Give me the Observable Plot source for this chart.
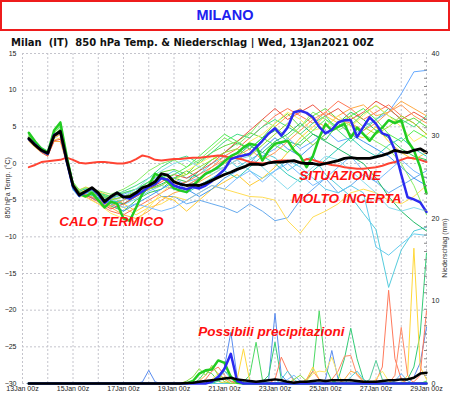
<!DOCTYPE html>
<html><head><meta charset="utf-8">
<script src="https://cdn.jsdelivr.net/npm/d3@7"></script>
<script src="https://cdn.jsdelivr.net/npm/@observablehq/plot@0.6"></script>
<style>
body{margin:0;background:#fff;width:450px;height:396px;overflow:hidden;position:relative}
#title{position:absolute;left:0;top:0;width:450px;height:31px;box-sizing:border-box;border:2px solid #ee1c1c;color:#2020f0;font:bold 14.5px "Liberation Sans",Arial,sans-serif;text-align:center;line-height:27px}
#sub{position:absolute;left:11px;top:36.5px;font:bold 10px "DejaVu Sans",sans-serif;line-height:12px;white-space:pre;color:#111}
#chart{position:absolute;left:0;top:48px}
</style></head><body>
<div id="title">MILANO</div>
<div id="sub">Milan  (IT)  850 hPa Temp. &amp; Niederschlag | Wed, 13Jan2021 00Z</div>
<div id="chart"></div>
<script>
// ---- time axes (hours after 13Jan2021 00Z) ----
const hours6 = [6,12,18,24,30,36,42,48,54,60,66,72,78,84,90,96,102,108,114,120,126,132,138,144,150,156,162,168,174,180,186,192,198,204,210,216,222,228,234,240,246,252,258,264,270,276,282,288,294,300,306,312,318,324,330,336,342,348,354,360,366,372,378,384];
const memberHours = [6,12,18,24,30,36,42,48,54,60,72,84,96,108,120,132,144,156,168,180,192,204,216,228,240,252,264,276,288,300,312,324,336,348,360,372,384];
const precipMemberHours = [96,102,108,114,120,126,132,138,144,150,156,162,168,174,180,186,192,198,204,210,216,222,228,234,240,246,252,258,264,270,276,282,288,294,300,306,312,318,324,330,336,342,348,354,360,366,372,378,384];
const dayTicks = [0,24,48,72,96,120,144,168,192,216,240,264,288,312,336,360,384];
const labelHours = [0,48,96,144,192,240,288,336,384];
const xLabels = ["13Jan 00z","15Jan 00z","17Jan 00z","19Jan 00z","21Jan 00z","23Jan 00z","25Jan 00z","27Jan 00z","29Jan 00z"];
const tempTicks = [-30,-25,-20,-15,-10,-5,0,5,10,15];
const precipTicks = [0,10,20,30,40];
const precipMinorTicks = [1,2,3,4,5,6,7,8,9,11,12,13,14,15,16,17,18,19,21,22,23,24,25,26,27,28,29,31,32,33,34,35,36,37,38,39];

// ---- bold series, 6-hourly (°C) ----
const tempMean = [3.4,2.5,1.8,1.4,3.8,4.4,0.5,-3.0, -4.3,-3.8,-3.3,-4.0,-5.2,-4.5,-4.0,-4.6, -4.5,-4.0,-3.3,-3.0,-2.5,-1.4,-1.6,-2.5, -2.8,-3.0,-2.9,-3.0,-2.7,-2.3,-1.9,-1.5, -1.2,-0.8,-0.5,-0.1,-0.1,-0.2,0.1,0.2, 0.2,0.3,0.4,0.1,0.0,0.0,-0.2,0.0, 0.2,0.4,0.7,0.8,0.7,0.7,0.7,0.9, 1.1,1.4,1.8,1.6,1.5,1.8,2.0,1.5];
const tempClim = [-0.5,-0.2,0.2,0.3,0.4,0.5,0.8,0.5, 0.1,0.0,0.1,0.2,0.2,0.1,0.0,0.0, 0.2,0.6,1.1,0.9,0.5,0.4,0.5,0.6, 0.6,0.7,0.8,0.8,0.9,1.0,1.1,1.0, 0.8,0.7,0.5,0.2,0.1,0.0,0.1,0.3, 0.4,0.4,0.3,0.2,0.6,0.5,0.2,0.0, -0.2,-0.3,-0.5,-0.6,-0.7,-0.7,-0.6,-0.5, -0.3,0.0,0.2,0.5,0.8,0.7,0.5,0.2];
const tempOper = [3.3,2.6,1.8,1.3,3.9,4.3,0.3,-3.2, -4.4,-3.9,-3.4,-4.2,-5.4,-4.6,-4.0,-4.5, -4.8,-4.3,-3.8,-3.2,-2.8,-2.0,-2.2,-3.0, -3.3,-3.5,-3.2,-3.4,-3.0,-2.4,-1.6,-0.8, 0.6,0.9,1.1,1.3,2.2,3.1,4.1,4.8, 3.8,4.9,7.0,7.2,6.9,6.3,5.0,4.1, 4.6,5.6,5.9,5.9,3.6,5.0,6.3,5.4, 4.1,3.8,1.8,-1.5,-4.6,-4.9,-5.3,-6.6];
const tempControl = [4.2,3.0,2.0,1.5,4.5,5.6,1.0,-3.0, -4.1,-4.5,-4.0,-5.0,-6.0,-5.2,-5.5,-7.5, -7.8,-6.0,-4.1,-3.0,-1.4,-1.8,-2.5,-3.4, -3.7,-3.9,-3.0,-2.2,-1.4,-1.0,-0.5,0.3, 1.0,1.4,2.2,2.7,2.5,0.4,1.8,2.7, 2.9,3.1,1.8,1.0,-0.5,1.0,3.5,5.4, 4.5,5.0,5.4,3.5,4.9,4.0,3.1,4.2, 4.9,5.9,5.5,5.9,3.1,1.8,-0.5,-4.1];

// ---- bold precipitation series, 6-hourly (mm) ----
const precipMean = [0,0,0,0,0,0,0,0, 0,0,0,0,0,0,0,0, 0,0,0,0,0,0,0,0, 0,0.05,0.1,0.2,0.3,0.4,0.5,0.6, 0.7,0.5,0.4,0.3,0.2,0.3,0.4,0.5, 0.4,0.2,0.1,0.2,0.2,0.3,0.4,0.3, 0.4,0.4,0.4,0.4,0.3,0.2,0.2,0.2, 0.3,0.4,0.4,0.5,0.5,0.7,1.2,1.3];
const precipOper = [0,0,0,0,0,0,0,0, 0,0,0,0,0,0,0,0, 0,0,0,0,0,0,0,0, 0,0,0,0,0,0.2,0.8,1.8, 3.6,0.3,0,0,0,0,0,0, 0,0,0,0,0,0,0,0, 0,0,0,0,0,0,0,0, 0,0,0,0,0,0,0,0];
const precipControl = [0,0,0,0,0,0,0,0, 0,0,0,0,0,0,0,0, 0,0,0,0,0,0,0,0, 0,0,0.3,1.2,1.6,1.7,2.8,2.5, 0.8,0.1,0,0,0,0,0,0, 0,0,0,0,0,0,0,0, 0,0,0,0,0,0,0,0, 0,0,0,0,0,0,0,0];

// ---- ensemble members, temperature (°C) at memberHours ----
const memberColors = ["#66dd44","#33cc55","#66aaee","#55ccdd","#66ccee","#ffdd55","#66aaff","#ffaa44","#ff7755","#ffcc33","#44dd88","#4499ee","#88ee66","#22bb66","#33ccbb","#ee5544","#77bbff","#ffee66","#55ee55","#ff9955","#88ddee","#99dd33"];
const tempMembers = [
 [3.8,2.9,2.0,1.5,3.9,4.8,0.8,-2.8,-4.0,-3.6, -4.2,-5.0,-4.5,-3.8,-2.5,-1.2,-0.8,-1.5,0.3,1.5,2.4,3.0,4.2,3.5,5.5,6.8,5.0,6.5,7.5,6.0,5.2,6.8,7.9,6.5,5.5,6.2,5.0],
 [3.6,2.7,1.9,1.3,3.7,4.3,0.6,-3.4,-4.5,-4.0, -4.6,-5.8,-6.5,-5.0,-4.0,-3.5,-2.0,-2.5,-1.0,0.5,1.5,2.8,2.0,3.5,4.5,3.0,2.5,4.0,3.2,5.5,7.0,6.0,4.5,3.5,2.0,1.0,0.5],
 [3.2,2.4,1.6,1.2,3.4,4.0,0.0,-3.0,-3.8,-3.5, -4.0,-4.8,-4.2,-3.5,-3.0,-4.5,-4.5,-5.5,-5.0,-5.5,-6.0,-6.7,-5.5,-6.5,-7.8,-7.4,-5.0,-3.5,-2.0,-4.0,-3.0,-1.5,-2.5,-4.0,-3.0,-2.0,-1.0],
 [3.5,2.6,1.8,1.4,3.8,4.2,0.2,-3.6,-4.6,-4.1, -4.5,-5.5,-5.0,-4.3,-3.2,-2.0,-1.0,-2.0,-1.5,0.0,1.0,-0.5,0.5,1.5,0.8,-1.0,0.2,1.0,-1.5,-3.0,-4.5,-6.8,-9.0,-16.9,-11.8,-9.2,-8.7],
 [3.3,2.5,1.7,1.3,3.6,4.1,0.1,-3.2,-4.2,-3.9, -4.8,-5.2,-5.6,-4.8,-3.8,-3.0,-3.5,-2.5,-2.0,-1.0,-0.5,0.5,-1.0,-2.0,-1.0,0.5,-0.5,-2.0,-3.5,-4.0,-3.0,-4.0,-11.4,-12.5,-11.0,-9.6,-9.8],
 [3.0,2.2,1.5,1.0,3.2,3.5,0.3,-2.8,-3.5,-3.8, -4.5,-5.5,-6.0,-7.0,-6.0,-5.5,-4.5,-5.0,-4.0,-3.0,-3.5,-4.0,-4.5,-4.6,-5.0,-7.8,-9.5,-7.3,-6.5,-5.5,-4.0,-3.5,-4.0,-5.0,-5.5,-4.5,-3.0],
 [3.4,2.5,1.8,1.4,3.7,4.5,0.4,-3.2,-4.4,-4.0, -4.3,-4.8,-4.0,-3.5,-2.5,-1.5,-2.0,-3.0,-2.0,-1.0,0.5,1.5,2.5,1.0,2.0,3.5,2.0,3.0,4.5,3.0,3.5,5.0,6.0,7.0,9.5,12.5,12.7],
 [3.1,2.3,1.6,1.1,3.0,3.0,0.0,-2.5,-3.8,-4.2, -5.0,-6.0,-7.0,-7.5,-6.5,-5.0,-4.0,-3.5,-2.5,-1.5,-0.5,0.5,1.5,3.0,5.0,6.5,7.5,6.0,5.0,6.5,7.5,8.0,6.5,7.0,8.5,7.5,6.5],
 [3.5,2.7,1.9,1.5,3.5,4.0,0.5,-3.0,-4.0,-4.5, -5.5,-6.5,-7.0,-6.0,-5.0,-4.0,-3.0,-2.5,-1.5,-0.5,1.0,2.0,3.5,5.0,6.5,7.5,6.5,5.5,7.0,8.5,7.5,6.0,7.0,8.0,6.5,5.5,4.0],
 [3.7,2.8,2.0,1.6,4.0,4.6,0.8,-2.7,-3.6,-3.2, -3.8,-4.5,-5.5,-6.5,-5.5,-4.5,-5.0,-6.5,-5.0,-3.5,-2.5,-1.5,-3.0,-2.0,-0.5,1.5,3.5,5.0,6.5,5.5,4.0,3.5,5.0,3.0,1.5,0.5,1.5],
 [4.0,3.0,2.2,1.7,4.2,5.0,1.0,-2.6,-3.8,-3.4, -4.0,-4.5,-3.8,-3.0,-2.0,-0.5,0.5,1.0,0.0,1.5,3.0,4.0,3.5,5.0,6.0,5.0,4.0,5.5,6.5,4.5,3.0,4.5,6.0,7.5,6.0,5.0,6.5],
 [3.3,2.4,1.6,1.2,3.5,4.1,0.1,-3.3,-4.5,-4.3, -5.0,-5.5,-6.5,-5.5,-4.5,-3.5,-2.5,-3.5,-4.5,-3.5,-2.0,-1.0,0.0,2.0,3.5,2.0,1.0,2.5,4.0,5.5,4.0,3.0,2.0,1.0,-0.5,-2.0,-3.0],
 [3.9,3.0,2.1,1.6,4.1,5.2,1.2,-2.5,-3.6,-3.3, -3.7,-4.2,-3.5,-2.5,-1.0,0.0,0.5,-0.5,0.5,2.0,3.5,2.5,4.0,6.0,5.0,3.5,5.0,7.0,6.0,4.5,5.5,4.0,3.0,2.0,0.0,-3.0,-7.0],
 [3.6,2.7,1.9,1.4,3.8,4.5,0.5,-3.0,-4.2,-3.9, -4.4,-5.0,-5.5,-4.5,-3.5,-2.8,-2.0,-1.0,-2.0,-1.0,0.0,1.0,2.5,1.5,3.0,4.0,5.5,4.0,3.0,2.0,1.0,0.0,-2.0,-4.5,-6.5,-8.0,-9.2],
 [3.4,2.6,1.8,1.3,3.6,4.2,0.3,-3.1,-4.3,-4.0, -4.7,-5.3,-5.0,-4.0,-3.0,-2.0,-3.0,-4.0,-3.0,-2.0,-1.0,-2.0,-0.5,1.0,0.0,-1.5,-2.5,-1.0,0.5,2.0,3.5,2.0,1.0,2.5,3.5,2.0,1.0],
 [3.2,2.3,1.5,1.0,3.1,3.3,0.2,-2.8,-3.9,-4.3, -5.2,-6.2,-5.5,-4.5,-3.5,-2.5,-1.5,-2.0,-1.0,0.0,1.5,3.0,4.5,6.0,7.5,6.0,7.0,8.0,6.5,7.5,6.0,7.0,8.5,7.5,6.0,7.0,6.0],
 [3.5,2.6,1.8,1.3,3.7,4.4,0.4,-3.0,-4.1,-3.8, -4.2,-5.0,-6.0,-5.5,-6.0,-6.5,-6.0,-5.0,-4.0,-3.0,-3.5,-2.0,-1.0,-2.5,-1.0,0.0,-1.5,-3.0,-2.0,-0.5,1.0,-1.0,-2.5,-1.0,0.5,-1.0,-2.0],
 [3.3,2.5,1.7,1.3,3.5,4.0,0.2,-3.2,-4.4,-4.6, -5.5,-6.8,-7.5,-8.0,-6.0,-4.0,-2.5,-1.0,0.0,1.0,0.0,1.5,3.0,4.0,5.5,7.0,6.0,4.5,5.0,6.5,5.0,6.5,8.0,6.5,5.0,3.0,4.0],
 [3.7,2.8,2.0,1.5,3.9,4.7,0.7,-2.9,-4.1,-3.7, -4.1,-4.7,-4.0,-3.5,-2.5,-2.0,-1.5,-0.5,1.0,2.5,4.0,3.0,2.0,3.5,2.5,1.5,3.0,4.5,6.0,5.0,6.5,7.5,6.0,4.0,3.0,4.5,3.5],
 [3.4,2.5,1.7,1.3,3.6,4.0,0.3,-3.1,-4.3,-4.2, -4.9,-5.8,-5.0,-4.0,-3.0,-2.0,-2.5,-3.0,-2.0,-0.5,0.5,1.0,2.0,0.5,1.5,3.0,4.5,6.0,7.0,6.0,5.5,4.5,5.5,7.0,8.0,6.5,5.5],
 [3.6,2.7,1.9,1.4,3.8,4.3,0.5,-3.3,-4.4,-4.0, -4.5,-5.2,-4.5,-3.5,-2.0,-1.0,0.0,0.5,-0.5,-1.5,-0.5,0.5,1.0,-0.5,-2.0,-3.5,-2.0,-0.5,1.0,0.5,-1.0,-2.5,-4.0,-6.0,-6.5,-6.0,-6.5],
 [3.5,2.6,1.8,1.4,3.7,4.5,0.5,-3.1,-4.2,-3.8, -4.3,-4.9,-4.6,-4.0,-3.5,-3.0,-2.0,-1.5,-0.5,0.5,1.5,2.0,1.0,2.5,4.0,5.5,4.0,2.5,4.0,5.5,6.5,5.0,4.0,5.0,6.5,5.5,4.0]
];

// ---- ensemble members, precipitation (mm) at precipMemberHours ----
const precipColors = ["#5b8def","#4cd964","#33cc77","#ffd83a","#ff7a5c","#ff8a66","#ffe866","#55cc99","#77bbff","#ffaa44","#55ccdd","#88dd44"];
const precipMembers = [
 [0,0,0,0.2,1.6,0.2,0, 0,0,0,0,0,0,0, 0,0.5,2.0,6.2,0.8,0,0, 0,0,0.5,8.5,1.0,0.2,0, 0,0,0,0,0.5,4.0,0.5, 0,0,0,0,0,0,0, 0,0,0,0,0.8,2.5,6.8],
 [0,0,0,0,0,0,0, 0,0,0,0,0,0.5,1.5, 1.2,0.3,0,0,0,0.2,1.0, 5.0,0.5,0,0,0,0,0, 0,0.3,1.5,8.8,2.0,0.3,0, 0,0,0,0,0,0,0, 0,0,0,0,0,0,0.3],
 [0,0,0,0,0,0,0, 0,0,0,0,0,0,0, 0,0.3,0.8,0.2,0,0,0, 0,0.2,1.0,5.0,0.5,0,0, 0,0,0,0,0,0,0.5, 3.0,6.7,3.0,0.5,0,0,0, 0,0,0,0.5,2.0,6.0,15.8],
 [0,0,0,0,0,0,0, 0,0,0,0,0,0,0, 0,0,0.2,0,0.5,4.2,0.3, 0,0,0,0,0,0,0, 0,0.5,2.0,0.5,0,0,0, 0,0,0,0,0,0,0, 0,0,0,1.0,16.4,2.0,0.5],
 [0,0,0,0,0,0,0, 0,0,0,0,0,0,0.5, 1.5,2.0,1.0,0.3,0,0,0, 0,0,0,0.5,3.2,1.5,0.3, 0,0,0,0,0,0,0, 0,0,0,0,0,0.3,2.0, 11.3,3.0,0.5,0,0.2,1.0,8.8],
 [0,0,0,0,0,0,0, 0,0,0,0,0,0,0, 0,0,0,0,0,0,0, 0,0,0,0,0,0,0, 0,0.5,1.5,0.5,0,0.5,1.5, 3.3,3.4,1.0,0.2,0,0,0, 0,1.0,6.8,1.0,0,0,0],
 [0,0,0,0,0,0,0, 0,0,0,0,0,0,0, 0.5,1.2,0.6,0,0,0,0, 0,0,0,0,0,0,0, 0,0.3,1.2,1.5,1.4,3.2,1.0, 0,0,0,0,0,0.5,1.5, 0.3,0,0,0,0,0,0],
 [0,0,0,0,0,0,0, 0,0,0,0,0,0,0, 0,0.5,1.5,1.0,0.2,0,0, 0,0,0,0,0,0,0, 0,0,0,0,0,0,0, 0,0,0,0,0.5,2.8,0.5, 0,0,0,0,0,0,0],
 [0,0,0,0,0,0,0, 0,0,0,0,0,0,0, 0.3,1.0,1.5,0.6,0,0,0, 0,0,0,0,0,0.5,1.0, 0.3,0,0,0,0,0,0, 0,0,0,0,0,0,0, 0,0.3,1.2,0.3,0,0,0],
 [0,0,0,0,0,0,0, 0,0,0,0,0,0.3,1.0, 2.0,1.2,0.5,0,0,0,0, 0,0,0,0,0,0,0, 0,0,0,0,0,0,0, 0.5,1.5,1.2,0.3,0,0,0, 0,0,0,0,0,0,0],
 [0,0,0,0,0,0,0, 0,0,0,0,0,0,0, 0,0,0,0,0,0,0, 0,0,0,0,0.5,1.5,0.5, 0,0,0,0,0,0,0, 0,0.8,1.5,0.5,0,0,0, 0,0,0,0,0,0,0],
 [0,0,0,0,0,0,0, 0,0,0,0.3,0.8,1.8,1.0, 2.2,1.0,0.2,0,0,0,0, 0,0,0,0,0,0,0.5, 1.0,0.3,0,0,0,0,0, 0,0,0,0,0,0,0, 0,0,0,0,0,0,0]
];

// ---- annotations ----
const annotationTexts = ["CALO TERMICO","SITUAZIONE","MOLTO INCERTA","Possibili precipitazioni"];
const annotationHours = [84.5,302,308,236.5];
const annotationTemps = [-8.0,-1.6,-4.8,-23.0];

// precipitation (0..40 mm) shares the frame with temperature (-30..15 °C)
const mmToT = mm => -30 + mm * 45 / 40;
const tToMm = t => (t + 30) * 40 / 45;

const thinTemp = tempMembers.map((vals, i) => Plot.line(vals, {x: (d, j) => memberHours[j], y: d => d, stroke: memberColors[i], strokeWidth: 1}));
const thinPrecip = precipMembers.map((vals, i) => Plot.line(vals, {x: (d, j) => precipMemberHours[j], y: d => mmToT(d), stroke: precipColors[i], strokeWidth: 1}));
const boldLine = (vals, color, w, isPrecip) => Plot.line(vals, {x: (d, j) => hours6[j], y: d => isPrecip ? mmToT(d) : d, stroke: color, strokeWidth: w});
const gridStyle = {stroke: "#c4c4cc", strokeOpacity: 1, strokeDasharray: "2,2", strokeWidth: 1};

const chart = Plot.plot({
  width: 450, height: 348,
  marginTop: 5, marginBottom: 13, marginLeft: 22, marginRight: 24,
  x: {domain: [0, 384]},
  y: {domain: [-30, 15]},
  style: {fontFamily: "Liberation Sans, Arial, sans-serif", fontSize: "7px", background: "white", color: "#222"},
  marks: [
    Plot.gridX(dayTicks, gridStyle),
    Plot.gridY(tempTicks, gridStyle),
    ...thinTemp,
    ...thinPrecip,
    boldLine(tempClim, "#ff4433", 2, false),
    boldLine(precipControl, "#22cc22", 2.5, true),
    boldLine(tempControl, "#22cc22", 2.5, false),
    boldLine(precipOper, "#2a2af0", 2.5, true),
    boldLine(tempOper, "#2a2af0", 2.5, false),
    boldLine(precipMean, "#000000", 2.5, true),
    boldLine(tempMean, "#000000", 2.8, false),
    Plot.text(annotationTexts, {x: (d, i) => annotationHours[i], y: (d, i) => annotationTemps[i], text: d => d, fill: "#ff1010", fontSize: 13.5, fontWeight: "bold", fontStyle: "italic", fontFamily: "Liberation Sans, Arial, sans-serif", textAnchor: "middle"}),
    Plot.axisX(labelHours, {tickSize: 0, tickPadding: 3, tickFormat: d => xLabels[labelHours.indexOf(d)], label: null, fill: "#222"}),
    Plot.axisY(tempTicks, {anchor: "left", tickSize: 0, tickPadding: 6, label: null, fill: "#222"}),
    Plot.axisY(precipTicks.map(mmToT), {anchor: "right", tickSize: 0, tickPadding: 5, tickFormat: d => String(Math.round(tToMm(d))), label: null, fill: "#222"}),
    Plot.axisY(precipMinorTicks.map(mmToT), {anchor: "right", tickSize: 3, dx: -3, tickFormat: () => "", label: null, stroke: "#888"}),
    Plot.text(["850 hPa Temp. (°C)"], {frameAnchor: "left", rotate: -90, dx: -15, fontSize: 7, fill: "#333"}),
    Plot.text(["Niederschlag (mm)"], {frameAnchor: "right", rotate: -90, dx: 18, fontSize: 7, fill: "#333"})
  ]
});
document.getElementById("chart").appendChild(chart);
</script>
</body></html>
